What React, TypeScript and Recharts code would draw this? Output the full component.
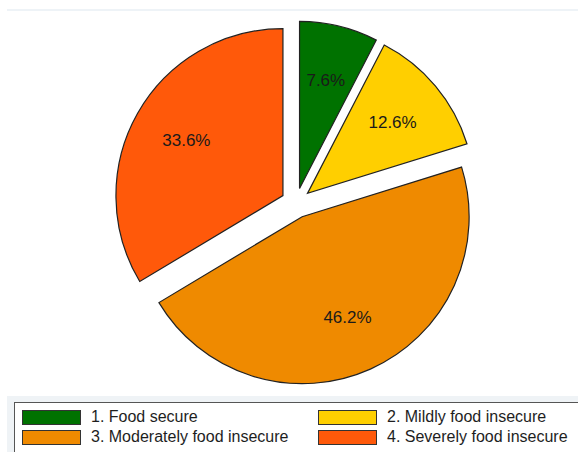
import React from "react";
import { PieChart, Pie, Cell, Sector, Legend, Tooltip } from "recharts";

const categories = [
  "1. Food secure",
  "2. Mildly food insecure",
  "3. Moderately food insecure",
  "4. Severely food insecure",
];
const shares = [7.6, 12.6, 46.2, 33.6];
const COLORS = ["#007200", "#ffcf00", "#ef8a00", "#ff590a"];

const data = categories.map((name, i) => ({ name, value: shares[i] }));

const RAD = Math.PI / 180;
const EXPLODE = 15;
const FONT = "'Liberation Sans', Arial, sans-serif";

// every slice is pushed out from the centre along its mid angle
function ExplodedSector(props: any) {
  const { cx, cy, midAngle } = props;
  const dx = EXPLODE * Math.cos(-midAngle * RAD);
  const dy = EXPLODE * Math.sin(-midAngle * RAD);
  return <Sector {...props} cx={cx + dx} cy={cy + dy} />;
}

function renderLabel(props: any) {
  const { cx, cy, midAngle, value } = props;
  const r = EXPLODE + 111;
  const x = cx + r * Math.cos(-midAngle * RAD);
  const y = cy + r * Math.sin(-midAngle * RAD);
  return (
    <text
      x={x}
      y={y}
      fill="#1a1a1a"
      fontSize={17}
      fontFamily={FONT}
      textAnchor="middle"
      dominantBaseline="central"
    >
      {`${Number(value).toFixed(1)}%`}
    </text>
  );
}

function LegendBox() {
  return (
    <div
      style={{
        position: "absolute",
        left: 7,
        top: 396,
        width: 571,
        height: 56,
        background: "#eff3f6",
      }}
    >
      <div
        style={{
          position: "absolute",
          left: 7,
          top: 6,
          width: 580,
          height: 60,
          background: "#fff",
          border: "1px solid #555",
          boxSizing: "border-box",
        }}
      >
        {categories.map((c, i) => (
          <div
            key={c}
            style={{
              position: "absolute",
              left: i % 2 === 0 ? 0 : 296,
              top: i < 2 ? 5 : 25,
              height: 18,
              display: "flex",
              alignItems: "center",
              fontFamily: FONT,
              fontSize: 16,
              color: "#1e1e1e",
              whiteSpace: "nowrap",
            }}
          >
            <span
              style={{
                display: "inline-block",
                marginLeft: 7,
                width: 59,
                height: 15,
                background: COLORS[i],
                border: "1.5px solid #333",
                boxSizing: "border-box",
                marginRight: 10,
              }}
            />
            {c}
          </div>
        ))}
      </div>
    </div>
  );
}

export default function App() {
  return (
    <div
      style={{
        position: "absolute",
        left: 0,
        top: 0,
        width: 578,
        height: 452,
        background: "#fff",
        overflow: "hidden",
      }}
    >
      <div
        style={{
          position: "absolute",
          left: 7,
          top: 9,
          width: 571,
          height: 2,
          background: "#eef3f7",
        }}
      />
      <PieChart width={578} height={452} margin={{ top: 0, right: 0, bottom: 0, left: 0 }}>
        <Pie
          data={data}
          dataKey="value"
          nameKey="name"
          cx={296}
          cy={203}
          outerRadius={167}
          startAngle={90}
          endAngle={-270}
          stroke="#222"
          strokeWidth={1.2}
          label={renderLabel}
          labelLine={false}
          isAnimationActive={false}
          shape={ExplodedSector}
          activeShape={ExplodedSector}
          inactiveShape={ExplodedSector}
        >
          {data.map((d, i) => (
            <Cell key={d.name} fill={COLORS[i]} />
          ))}
        </Pie>
        <Tooltip defaultIndex={0} content={() => null} />
        <Legend content={() => null} />
      </PieChart>
      <LegendBox />
    </div>
  );
}
